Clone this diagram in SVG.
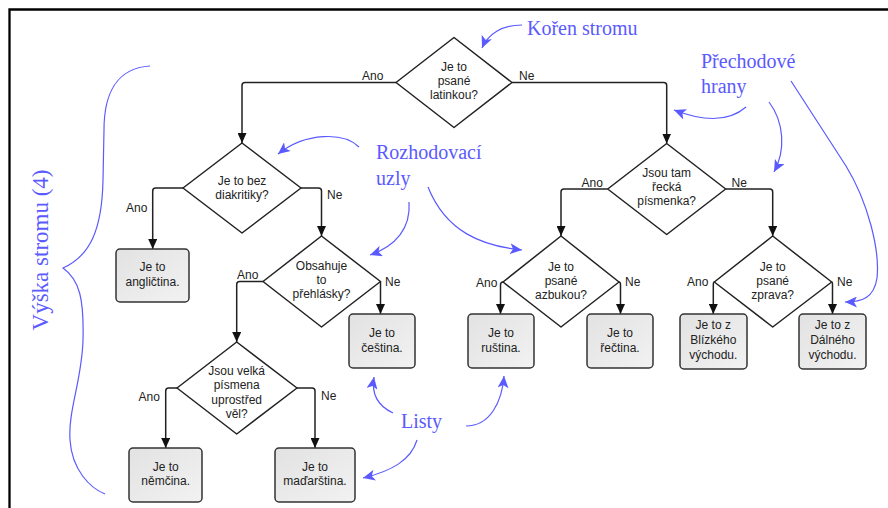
<svg xmlns="http://www.w3.org/2000/svg" width="888" height="508" viewBox="0 0 888 508">
  <style>
    .dia { fill: #ffffff; stroke: #222222; stroke-width: 1.5; stroke-linejoin: round; }
    .leaf { fill: url(#leafFill); stroke: #333333; stroke-width: 1.5; }
    .t { font-family: "Liberation Sans", Arial, sans-serif; font-size: 12px; fill: #222222; text-anchor: middle; }
    .lbl { font-family: "Liberation Sans", Arial, sans-serif; font-size: 12px; fill: #222222; }
    .edge { fill: none; stroke: #222222; stroke-width: 1.5; marker-end: url(#ah); }
    .note { font-family: "Liberation Serif", "Times New Roman", serif; font-size: 20px; fill: #5a5aff; }
    .pointer { fill: none; stroke: #5a5aff; stroke-width: 1.2; marker-end: url(#bh); }
  </style>
  <defs>
    <linearGradient id="leafFill" x1="0" y1="0" x2="1" y2="1">
      <stop offset="0" stop-color="#e2e2e2"/>
      <stop offset="1" stop-color="#f2f2f2"/>
    </linearGradient>
    <marker id="ah" markerUnits="userSpaceOnUse" markerWidth="10" markerHeight="9" refX="10" refY="4.5" orient="auto">
      <path d="M0,0 L10,4.5 L0,9 z" fill="#111111"/>
    </marker>
    <marker id="bh" markerUnits="userSpaceOnUse" markerWidth="13" markerHeight="11" refX="12" refY="5.5" orient="auto">
      <path d="M0,0 L12,5.5 L0,11 L3,5.5 z" fill="#5a5aff"/>
    </marker>
  </defs>

  <rect width="888" height="508" fill="#ffffff"/>
  <!-- frame -->
  <path d="M9.5,508 V9.5 H888" fill="none" stroke="#000000" stroke-width="2.3"/>

  <!-- connectors -->
  <g id="connectors">
    <path class="edge" d="M396,82.5 H245 Q242,82.5 242,85.5 V143"/>
    <path class="edge" d="M512,82.5 H663.7 Q666.7,82.5 666.7,85.5 V143.5"/>
    <path class="edge" d="M183,188 H155.7 Q152.7,188 152.7,191 V249"/>
    <path class="edge" d="M301,188 H318.5 Q321.5,188 321.5,191 V236"/>
    <path class="edge" d="M263,281.5 H239.7 Q236.7,281.5 236.7,284.5 V342"/>
    <path class="edge" d="M380.5,281.5 V314"/>
    <path class="edge" d="M177,388 H168.7 Q165.7,388 165.7,391 V448"/>
    <path class="edge" d="M297,388 H312 Q315,388 315,391 V448"/>
    <path class="edge" d="M607.7,189 H564 Q561,189 561,192 V236"/>
    <path class="edge" d="M725.7,189 H769.7 Q772.7,189 772.7,192 V236"/>
    <path class="edge" d="M503,282 Q500.5,282 500.5,285 V314"/>
    <path class="edge" d="M619,282 Q620.5,282 620.5,285 V314"/>
    <path class="edge" d="M714.3,282 Q713.3,282 713.3,285 V314"/>
    <path class="edge" d="M831.7,282 Q832.5,282 832.5,285 V314"/>
  </g>

  <!-- edge labels -->
  <g id="edge-labels">
    <text class="lbl" x="362" y="80">Ano</text>
    <text class="lbl" x="519" y="80">Ne</text>
    <text class="lbl" x="126" y="211.5">Ano</text>
    <text class="lbl" x="327" y="199">Ne</text>
    <text class="lbl" x="237" y="279">Ano</text>
    <text class="lbl" x="385" y="285.5">Ne</text>
    <text class="lbl" x="138.5" y="400.5">Ano</text>
    <text class="lbl" x="321" y="400">Ne</text>
    <text class="lbl" x="581.5" y="186.5">Ano</text>
    <text class="lbl" x="731.5" y="186.5">Ne</text>
    <text class="lbl" x="476" y="287">Ano</text>
    <text class="lbl" x="625" y="285.5">Ne</text>
    <text class="lbl" x="687" y="286">Ano</text>
    <text class="lbl" x="837" y="285.5">Ne</text>
  </g>

  <!-- decision nodes -->
  <g id="n-latinka">
    <polygon class="dia" points="454,37.5 512,82.5 454,127.5 396,82.5"/>
    <text class="t" x="454" y="71">Je to</text>
    <text class="t" x="454" y="85">psané</text>
    <text class="t" x="454" y="99">latinkou?</text>
  </g>
  <g id="n-diakritika">
    <polygon class="dia" points="242,143 301,188 242,233 183,188"/>
    <text class="t" x="242" y="184.5">Je to bez</text>
    <text class="t" x="242" y="199">diakritiky?</text>
  </g>
  <g id="n-prehlasky">
    <polygon class="dia" points="321.5,236 380.5,281.5 321.5,327 263,281.5"/>
    <text class="t" x="321.5" y="270">Obsahuje</text>
    <text class="t" x="321.5" y="284">to</text>
    <text class="t" x="321.5" y="298">přehlásky?</text>
  </g>
  <g id="n-velka">
    <polygon class="dia" points="236.7,342 297,388 236.7,434 177,388"/>
    <text class="t" x="236.7" y="375">Jsou velká</text>
    <text class="t" x="236.7" y="389">písmena</text>
    <text class="t" x="236.7" y="403.5">uprostřed</text>
    <text class="t" x="236.7" y="418">věl?</text>
  </g>
  <g id="n-recka">
    <polygon class="dia" points="666.7,143.5 725.7,189 666.7,234.5 607.7,189"/>
    <text class="t" x="666.7" y="177">Jsou tam</text>
    <text class="t" x="666.7" y="191">řecká</text>
    <text class="t" x="666.7" y="205">písmenka?</text>
  </g>
  <g id="n-azbuka">
    <polygon class="dia" points="561,236 619,282 561,327 503,282"/>
    <text class="t" x="561" y="270.5">Je to</text>
    <text class="t" x="561" y="284.5">psané</text>
    <text class="t" x="561" y="298.5">azbukou?</text>
  </g>
  <g id="n-zprava">
    <polygon class="dia" points="772.7,236 831.7,282 772.7,327 714.3,282"/>
    <text class="t" x="772.7" y="270.5">Je to</text>
    <text class="t" x="772.7" y="284.5">psané</text>
    <text class="t" x="772.7" y="298.5">zprava?</text>
  </g>

  <!-- leaf nodes -->
  <g id="l-anglictina">
    <rect class="leaf" x="116" y="249" width="73" height="53" rx="4"/>
    <text class="t" x="152.5" y="271">Je to</text>
    <text class="t" x="152.5" y="285.5">angličtina.</text>
  </g>
  <g id="l-cestina">
    <rect class="leaf" x="349" y="314" width="66" height="54" rx="4"/>
    <text class="t" x="382" y="337">Je to</text>
    <text class="t" x="382" y="351.5">čeština.</text>
  </g>
  <g id="l-nemcina">
    <rect class="leaf" x="129" y="448" width="73" height="54" rx="4"/>
    <text class="t" x="165.7" y="470.5">Je to</text>
    <text class="t" x="165.7" y="485">němčina.</text>
  </g>
  <g id="l-madarstina">
    <rect class="leaf" x="275" y="448" width="80" height="54" rx="4"/>
    <text class="t" x="315" y="470.5">Je to</text>
    <text class="t" x="315" y="485">maďarština.</text>
  </g>
  <g id="l-rustina">
    <rect class="leaf" x="468" y="314" width="66" height="54" rx="4"/>
    <text class="t" x="501" y="337">Je to</text>
    <text class="t" x="501" y="351.5">ruština.</text>
  </g>
  <g id="l-rectina">
    <rect class="leaf" x="587" y="314" width="66" height="54" rx="4"/>
    <text class="t" x="620" y="337">Je to</text>
    <text class="t" x="620" y="351.5">řečtina.</text>
  </g>
  <g id="l-blizky">
    <rect class="leaf" x="680" y="314" width="67" height="55" rx="4"/>
    <text class="t" x="713.3" y="329">Je to z</text>
    <text class="t" x="713.3" y="344">Blízkého</text>
    <text class="t" x="713.3" y="359">východu.</text>
  </g>
  <g id="l-dalny">
    <rect class="leaf" x="799" y="314" width="67" height="55" rx="4"/>
    <text class="t" x="832.5" y="329">Je to z</text>
    <text class="t" x="832.5" y="344">Dálného</text>
    <text class="t" x="832.5" y="359">východu.</text>
  </g>

  <!-- annotations -->
  <g id="annotations">
    <text class="note" x="527" y="34.5">Kořen stromu</text>
    <path class="pointer" d="M522,25 C502,25 488,34 482,48"/>

    <text class="note" x="701" y="68">Přechodové</text>
    <text class="note" x="701" y="93">hrany</text>
    <path class="pointer" d="M746,107 C730,121 705,122 674,110"/>
    <path class="pointer" d="M769,102 C784,122 786,150 774,172"/>
    <path class="pointer" d="M791,81 L846,166 C868,202 880,250 877,278 C874,298 862,302 845,302"/>

    <text class="note" x="376" y="159">Rozhodovací</text>
    <text class="note" x="376" y="185">uzly</text>
    <path class="pointer" d="M359,147 C344,132 306,132 278,154"/>
    <path class="pointer" d="M409,202 C411,228 396,246 370,255"/>
    <path class="pointer" d="M428,187 C446,232 482,246 522,250"/>

    <text class="note" x="401" y="427.5">Listy</text>
    <path class="pointer" d="M393,413 C378,406 371,395 374,377"/>
    <path class="pointer" d="M466,426 C490,426 502,402 504,376"/>
    <path class="pointer" d="M417,440 C411,460 392,471 363,478"/>

    <text class="note" transform="translate(48,250) rotate(-90)" text-anchor="middle" style="font-size:23px">Výška stromu (4)</text>
    <path d="M150,66 C116,68 104,95 104,130 L103,180 C102,230 90,256 63,268 C80,280 84,300 83,340 C82,380 68,410 70,440 C72,470 90,488 105,494" fill="none" stroke="#5a5aff" stroke-width="1.2"/>
  </g>
</svg>
